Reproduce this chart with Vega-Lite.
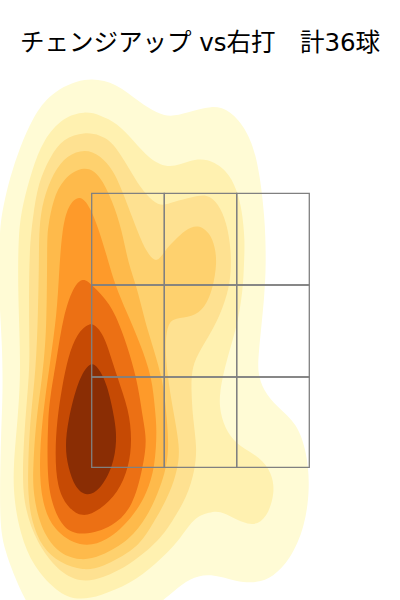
{"$schema":"https://vega.github.io/schema/vega-lite/v6.json","width":400,"height":600,"autosize":{"type":"fit","contains":"padding"},"padding":0,"view":{"stroke":null},"background":"#ffffff",
"datasets":{"contours":[
{"level":"1","i":0,"x":-115,"y":524},{"level":"1","i":1,"x":-83,"y":517},{"level":"1","i":2,"x":-60,"y":497},{"level":"1","i":3,"x":-43,"y":487},{"level":"1","i":4,"x":-30,"y":483},{"level":"1","i":5,"x":-13,"y":487},{"level":"1","i":6,"x":12,"y":495},{"level":"1","i":7,"x":30,"y":490},{"level":"1","i":8,"x":47,"y":470},{"level":"1","i":9,"x":58,"y":440},{"level":"1","i":10,"x":65,"y":383},{"level":"1","i":11,"x":66,"y":340},{"level":"1","i":12,"x":65,"y":307},{"level":"1","i":13,"x":58,"y":243},{"level":"1","i":14,"x":58,"y":227},{"level":"1","i":15,"x":63,"y":210},{"level":"1","i":16,"x":77,"y":193},{"level":"1","i":17,"x":97,"y":177},{"level":"1","i":18,"x":107,"y":147},{"level":"1","i":19,"x":110,"y":113},{"level":"1","i":20,"x":105,"y":73},{"level":"1","i":21,"x":90,"y":40},{"level":"1","i":22,"x":73,"y":23},{"level":"1","i":23,"x":57,"y":17},{"level":"1","i":24,"x":37,"y":18},{"level":"1","i":25,"x":10,"y":27},{"level":"1","i":26,"x":-10,"y":22},{"level":"1","i":27,"x":-27,"y":8},{"level":"1","i":28,"x":-37,"y":0},{"level":"1","i":29,"x":-50,"y":-12},{"level":"1","i":30,"x":-110,"y":-15},{"level":"1","i":31,"x":-165,"y":-15},{"level":"1","i":32,"x":-175,"y":0},{"level":"1","i":33,"x":-187,"y":27},{"level":"1","i":34,"x":-195,"y":50},{"level":"1","i":35,"x":-200,"y":72},{"level":"1","i":36,"x":-200,"y":120},{"level":"1","i":37,"x":-199,"y":167},{"level":"1","i":38,"x":-197,"y":210},{"level":"1","i":39,"x":-198,"y":260},{"level":"1","i":40,"x":-201,"y":300},{"level":"1","i":41,"x":-201,"y":367},{"level":"1","i":42,"x":-197,"y":393},{"level":"1","i":43,"x":-190,"y":423},{"level":"1","i":44,"x":-180,"y":453},{"level":"1","i":45,"x":-167,"y":483},{"level":"1","i":46,"x":-150,"y":507},
{"level":"2","i":0,"x":-115,"y":489},{"level":"2","i":1,"x":-100,"y":485},{"level":"2","i":2,"x":-83,"y":477},{"level":"2","i":3,"x":-67,"y":460},{"level":"2","i":4,"x":-50,"y":440},{"level":"2","i":5,"x":-30,"y":431},{"level":"2","i":6,"x":-10,"y":440},{"level":"2","i":7,"x":7,"y":442},{"level":"2","i":8,"x":27,"y":430},{"level":"2","i":9,"x":37,"y":410},{"level":"2","i":10,"x":42,"y":390},{"level":"2","i":11,"x":45,"y":360},{"level":"2","i":12,"x":44,"y":337},{"level":"2","i":13,"x":43,"y":310},{"level":"2","i":14,"x":37,"y":273},{"level":"2","i":15,"x":27,"y":242},{"level":"2","i":16,"x":19,"y":207},{"level":"2","i":17,"x":20,"y":187},{"level":"2","i":18,"x":27,"y":167},{"level":"2","i":19,"x":40,"y":153},{"level":"2","i":20,"x":60,"y":143},{"level":"2","i":21,"x":72,"y":127},{"level":"2","i":22,"x":75,"y":107},{"level":"2","i":23,"x":67,"y":82},{"level":"2","i":24,"x":53,"y":73},{"level":"2","i":25,"x":33,"y":82},{"level":"2","i":26,"x":20,"y":89},{"level":"2","i":27,"x":10,"y":88},{"level":"2","i":28,"x":-7,"y":82},{"level":"2","i":29,"x":-20,"y":60},{"level":"2","i":30,"x":-45,"y":35},{"level":"2","i":31,"x":-70,"y":16},{"level":"2","i":32,"x":-100,"y":4},{"level":"2","i":33,"x":-120,"y":0},{"level":"2","i":34,"x":-140,"y":5},{"level":"2","i":35,"x":-167,"y":33},{"level":"2","i":36,"x":-180,"y":67},{"level":"2","i":37,"x":-186,"y":100},{"level":"2","i":38,"x":-187,"y":133},{"level":"2","i":39,"x":-182,"y":183},{"level":"2","i":40,"x":-179,"y":233},{"level":"2","i":41,"x":-182,"y":300},{"level":"2","i":42,"x":-182,"y":367},{"level":"2","i":43,"x":-177,"y":397},{"level":"2","i":44,"x":-168,"y":430},{"level":"2","i":45,"x":-157,"y":460},{"level":"2","i":46,"x":-137,"y":483},
{"level":"3","i":0,"x":-115,"y":468},{"level":"3","i":1,"x":-100,"y":465},{"level":"3","i":2,"x":-87,"y":458},{"level":"3","i":3,"x":-70,"y":430},{"level":"3","i":4,"x":-60,"y":413},{"level":"3","i":5,"x":-47,"y":398},{"level":"3","i":6,"x":-37,"y":394},{"level":"3","i":7,"x":-27,"y":398},{"level":"3","i":8,"x":-7,"y":403},{"level":"3","i":9,"x":7,"y":406},{"level":"3","i":10,"x":18,"y":397},{"level":"3","i":11,"x":27,"y":377},{"level":"3","i":12,"x":31,"y":350},{"level":"3","i":13,"x":31,"y":327},{"level":"3","i":14,"x":28,"y":307},{"level":"3","i":15,"x":17,"y":277},{"level":"3","i":16,"x":0,"y":250},{"level":"3","i":17,"x":-8,"y":233},{"level":"3","i":18,"x":-9,"y":213},{"level":"3","i":19,"x":-7,"y":180},{"level":"3","i":20,"x":-3,"y":153},{"level":"3","i":21,"x":-5,"y":130},{"level":"3","i":22,"x":-13,"y":103},{"level":"3","i":23,"x":-27,"y":80},{"level":"3","i":24,"x":-40,"y":60},{"level":"3","i":25,"x":-70,"y":35},{"level":"3","i":26,"x":-97,"y":22},{"level":"3","i":27,"x":-120,"y":17},{"level":"3","i":28,"x":-143,"y":30},{"level":"3","i":29,"x":-163,"y":57},{"level":"3","i":30,"x":-175,"y":90},{"level":"3","i":31,"x":-178,"y":123},{"level":"3","i":32,"x":-175,"y":180},{"level":"3","i":33,"x":-170,"y":233},{"level":"3","i":34,"x":-171,"y":267},{"level":"3","i":35,"x":-171,"y":350},{"level":"3","i":36,"x":-167,"y":383},{"level":"3","i":37,"x":-162,"y":417},{"level":"3","i":38,"x":-150,"y":443},{"level":"3","i":39,"x":-137,"y":462},
{"level":"4","i":0,"x":-115,"y":451},{"level":"4","i":1,"x":-100,"y":445},{"level":"4","i":2,"x":-87,"y":430},{"level":"4","i":3,"x":-78,"y":410},{"level":"4","i":4,"x":-62,"y":367},{"level":"4","i":5,"x":-53,"y":347},{"level":"4","i":6,"x":-43,"y":336},{"level":"4","i":7,"x":-35,"y":350},{"level":"4","i":8,"x":-25,"y":360},{"level":"4","i":9,"x":-15,"y":370},{"level":"4","i":10,"x":-2,"y":376},{"level":"4","i":11,"x":10,"y":367},{"level":"4","i":12,"x":15,"y":353},{"level":"4","i":13,"x":17,"y":337},{"level":"4","i":14,"x":13,"y":312},{"level":"4","i":15,"x":5,"y":292},{"level":"4","i":16,"x":-8,"y":283},{"level":"4","i":17,"x":-25,"y":282},{"level":"4","i":18,"x":-32,"y":277},{"level":"4","i":19,"x":-35,"y":257},{"level":"4","i":20,"x":-33,"y":227},{"level":"4","i":21,"x":-27,"y":190},{"level":"4","i":22,"x":-20,"y":153},{"level":"4","i":23,"x":-22,"y":132},{"level":"4","i":24,"x":-30,"y":107},{"level":"4","i":25,"x":-43,"y":83},{"level":"4","i":26,"x":-57,"y":60},{"level":"4","i":27,"x":-70,"y":48},{"level":"4","i":28,"x":-97,"y":33},{"level":"4","i":29,"x":-117,"y":29},{"level":"4","i":30,"x":-140,"y":37},{"level":"4","i":31,"x":-158,"y":52},{"level":"4","i":32,"x":-169,"y":80},{"level":"4","i":33,"x":-172,"y":107},{"level":"4","i":34,"x":-172,"y":133},{"level":"4","i":35,"x":-170,"y":180},{"level":"4","i":36,"x":-164,"y":230},{"level":"4","i":37,"x":-162,"y":287},{"level":"4","i":38,"x":-161,"y":337},{"level":"4","i":39,"x":-161,"y":373},{"level":"4","i":40,"x":-157,"y":400},{"level":"4","i":41,"x":-147,"y":427},{"level":"4","i":42,"x":-133,"y":445},
{"level":"5","i":0,"x":-115,"y":435},{"level":"5","i":1,"x":-100,"y":425},{"level":"5","i":2,"x":-88,"y":400},{"level":"5","i":3,"x":-78,"y":370},{"level":"5","i":4,"x":-72,"y":337},{"level":"5","i":5,"x":-63,"y":313},{"level":"5","i":6,"x":-53,"y":270},{"level":"5","i":7,"x":-37,"y":223},{"level":"5","i":8,"x":-33,"y":180},{"level":"5","i":9,"x":-31,"y":150},{"level":"5","i":10,"x":-35,"y":127},{"level":"5","i":11,"x":-42,"y":107},{"level":"5","i":12,"x":-53,"y":83},{"level":"5","i":13,"x":-70,"y":60},{"level":"5","i":14,"x":-100,"y":43},{"level":"5","i":15,"x":-120,"y":39},{"level":"5","i":16,"x":-143,"y":47},{"level":"5","i":17,"x":-160,"y":73},{"level":"5","i":18,"x":-167,"y":107},{"level":"5","i":19,"x":-167,"y":133},{"level":"5","i":20,"x":-164,"y":180},{"level":"5","i":21,"x":-158,"y":220},{"level":"5","i":22,"x":-153,"y":270},{"level":"5","i":23,"x":-153,"y":360},{"level":"5","i":24,"x":-152,"y":373},{"level":"5","i":25,"x":-147,"y":400},{"level":"5","i":26,"x":-137,"y":422},
{"level":"6","i":0,"x":-120,"y":406},{"level":"6","i":1,"x":-110,"y":393},{"level":"6","i":2,"x":-102,"y":373},{"level":"6","i":3,"x":-92,"y":340},{"level":"6","i":4,"x":-85,"y":315},{"level":"6","i":5,"x":-73,"y":287},{"level":"6","i":6,"x":-60,"y":257},{"level":"6","i":7,"x":-48,"y":223},{"level":"6","i":8,"x":-45,"y":190},{"level":"6","i":9,"x":-43,"y":170},{"level":"6","i":10,"x":-45,"y":133},{"level":"6","i":11,"x":-53,"y":107},{"level":"6","i":12,"x":-67,"y":83},{"level":"6","i":13,"x":-93,"y":58},{"level":"6","i":14,"x":-120,"y":52},{"level":"6","i":15,"x":-147,"y":70},{"level":"6","i":16,"x":-158,"y":97},{"level":"6","i":17,"x":-161,"y":133},{"level":"6","i":18,"x":-158,"y":180},{"level":"6","i":19,"x":-150,"y":237},{"level":"6","i":20,"x":-143,"y":287},{"level":"6","i":21,"x":-141,"y":327},{"level":"6","i":22,"x":-138,"y":370},{"level":"6","i":23,"x":-132,"y":395},
{"level":"7","i":0,"x":-117,"y":323},{"level":"7","i":1,"x":-108,"y":315},{"level":"7","i":2,"x":-90,"y":297},{"level":"7","i":3,"x":-78,"y":270},{"level":"7","i":4,"x":-63,"y":223},{"level":"7","i":5,"x":-57,"y":180},{"level":"7","i":6,"x":-53,"y":160},{"level":"7","i":7,"x":-57,"y":133},{"level":"7","i":8,"x":-67,"y":93},{"level":"7","i":9,"x":-87,"y":73},{"level":"7","i":10,"x":-117,"y":64},{"level":"7","i":11,"x":-137,"y":70},{"level":"7","i":12,"x":-150,"y":100},{"level":"7","i":13,"x":-153,"y":133},{"level":"7","i":14,"x":-152,"y":180},{"level":"7","i":15,"x":-150,"y":203},{"level":"7","i":16,"x":-143,"y":243},{"level":"7","i":17,"x":-137,"y":283},{"level":"7","i":18,"x":-127,"y":313},
{"level":"8","i":0,"x":-110,"y":278},{"level":"8","i":1,"x":-103,"y":273},{"level":"8","i":2,"x":-95,"y":263},{"level":"8","i":3,"x":-83,"y":223},{"level":"8","i":4,"x":-71,"y":190},{"level":"8","i":5,"x":-68,"y":160},{"level":"8","i":6,"x":-71,"y":133},{"level":"8","i":7,"x":-82,"y":107},{"level":"8","i":8,"x":-100,"y":90},{"level":"8","i":9,"x":-118,"y":82},{"level":"8","i":10,"x":-133,"y":93},{"level":"8","i":11,"x":-143,"y":113},{"level":"8","i":12,"x":-145,"y":147},{"level":"8","i":13,"x":-143,"y":180},{"level":"8","i":14,"x":-138,"y":213},{"level":"8","i":15,"x":-132,"y":243},{"level":"8","i":16,"x":-123,"y":267},
{"level":"9","i":0,"x":-110,"y":239},{"level":"9","i":1,"x":-102,"y":233},{"level":"9","i":2,"x":-93,"y":217},{"level":"9","i":3,"x":-85,"y":180},{"level":"9","i":4,"x":-83,"y":160},{"level":"9","i":5,"x":-87,"y":133},{"level":"9","i":6,"x":-100,"y":110},{"level":"9","i":7,"x":-113,"y":103},{"level":"9","i":8,"x":-125,"y":112},{"level":"9","i":9,"x":-132,"y":133},{"level":"9","i":10,"x":-135,"y":153},{"level":"9","i":11,"x":-132,"y":180},{"level":"9","i":12,"x":-122,"y":220}
],
"zone":[
{"x":-108.3,"x2":-35.7,"y":406.7,"y2":315},{"x":-35.7,"x2":36.7,"y":406.7,"y2":315},{"x":36.7,"x2":109.3,"y":406.7,"y2":315},
{"x":-108.3,"x2":-35.7,"y":315,"y2":223},{"x":-35.7,"x2":36.7,"y":315,"y2":223},{"x":36.7,"x2":109.3,"y":315,"y2":223},
{"x":-108.3,"x2":-35.7,"y":223,"y2":132.7},{"x":-35.7,"x2":36.7,"y":223,"y2":132.7},{"x":36.7,"x2":109.3,"y":223,"y2":132.7}
],
"heading":[{"x":0,"y":556.5,"label":"チェンジアップ vs右打　計36球"}]},
"layer":[
{"data":{"name":"contours"},"mark":{"type":"line","interpolate":"basis-closed","filled":true,"clip":true,"strokeWidth":0},
"encoding":{"x":{"field":"x","type":"quantitative","scale":{"domain":[-200,200],"nice":false,"zero":false},"axis":null},"y":{"field":"y","type":"quantitative","scale":{"domain":[0,600],"nice":false,"zero":false},"axis":null},"order":{"field":"i","type":"quantitative"},"color":{"field":"level","type":"nominal","legend":null,"scale":{"domain":["1","2","3","4","5","6","7","8","9"],"range":["#fffbd5","#fff1b0","#fee191","#fed16e","#feba4b","#fe9a2a","#ec7014","#c64a04","#8a2d04"]}}}},
{"data":{"name":"zone"},"mark":{"type":"rect","fill":null,"filled":false,"stroke":"#808080","strokeWidth":1.3},
"encoding":{"x":{"field":"x","type":"quantitative","axis":null},"x2":{"field":"x2"},"y":{"field":"y","type":"quantitative","axis":null},"y2":{"field":"y2"}}},
{"data":{"name":"heading"},"mark":{"type":"text","font":"DejaVu Sans, Noto Sans CJK JP","fontSize":24.5,"align":"center","baseline":"middle","color":"#000000"},
"encoding":{"x":{"field":"x","type":"quantitative","axis":null},"y":{"field":"y","type":"quantitative","axis":null},"text":{"field":"label"}}}
]}
